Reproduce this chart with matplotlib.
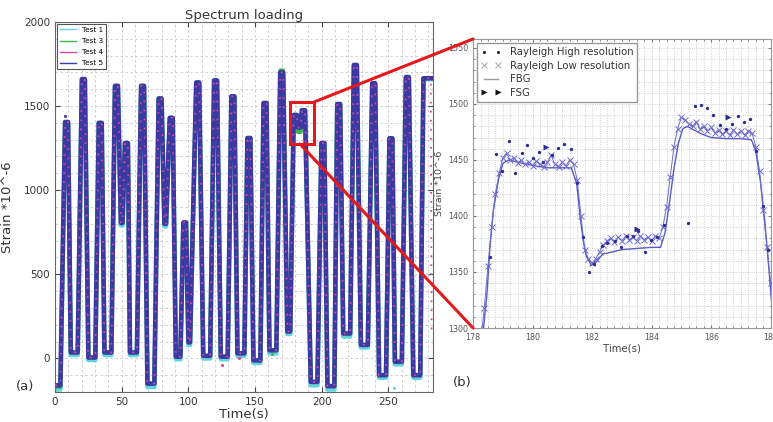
import numpy as np
import matplotlib
matplotlib.use("Agg")
import matplotlib.pyplot as plt
from matplotlib.patches import Rectangle, ConnectionPatch
from matplotlib.lines import Line2D
from matplotlib.ticker import MultipleLocator, AutoMinorLocator

# ---------------- data: panel (a) loading plateaus ----------------
seg_start = [0.0, 7.55, 11.8, 20.15, 25.0, 32.8, 37.05, 44.95, 49.4, 52.45, 56.2, 64.55,
             69.3, 77.7, 82.05, 86.05, 90.6, 96.25, 100.05, 105.9, 111.15, 119.3, 124.3,
             132.3, 136.8, 144.3, 148.8, 156.4, 160.8, 168.9, 174.2, 179.0, 182.1, 185.1,
             191.8, 199.8, 204.3, 211.65, 216.15, 224.15, 229.4, 237.9, 243.05, 250.8,
             254.9, 263.15, 268.7, 276.3]
seg_end = [4.0, 9.75, 17.0, 22.35, 30.2, 35.0, 42.25, 47.15, 50.6, 54.65, 61.4, 66.75,
           74.5, 79.9, 83.25, 88.25, 94.0, 98.25, 101.25, 108.1, 116.35, 121.5, 129.5,
           134.5, 142.0, 146.5, 154.0, 158.6, 166.0, 171.1, 176.4, 181.4, 184.3, 187.5,
           196.8, 202.0, 209.5, 213.85, 221.35, 226.35, 234.6, 240.1, 248.25, 253.0,
           260.1, 265.35, 273.9, 283.0]
test5_level = [-160, 1405, 35, 1660, 5, 1400, 35, 1620, 805, 1280, 35, 1620, -150, 1545,
               800, 1430, 10, 808, 95, 1640, 15, 1652, 10, 1558, 30, 1310, -12, 1518, 48,
               1700, 160, 1447, 1372, 1475, -140, 1280, -165, 1512, 148, 1744, 80, 1635,
               -100, 1308, -20, 1672, -100, 1665]
test1_level = [-185, 1400, 20, 1655, -10, 1395, 20, 1615, 790, 1275, 20, 1615, -170, 1540,
               785, 1425, -5, 800, 80, 1635, 0, 1647, -5, 1553, 15, 1305, -27, 1513, 30,
               1695, 145, 1440, 1360, 1468, -160, 1275, -185, 1507, 130, 1740, 65, 1630,
               -115, 1303, -35, 1667, -115, 1660]
test3_level = [-170, 1405, 35, 1660, 5, 1400, 35, 1620, 805, 1280, 35, 1620, -150, 1545,
               800, 1430, 10, 808, 95, 1640, 15, 1652, 10, 1558, 30, 1310, -12, 1518, 48,
               1712, 160, 1447, 1345, 1475, -140, 1280, -165, 1512, 148, 1744, 80, 1635,
               -100, 1308, -20, 1672, -100, 1665]
test4_level = test5_level
test4_tail_t = [281.8, 282.4]
test4_tail_v = [1665, 150]

out_t = {"t1": [254.0], "t3": [162.5], "t4": [125.0, 138.0], "t5": [7.5]}
out_v = {"t1": [-175], "t3": [28], "t4": [-40, 0], "t5": [1440]}

# ---------------- data: panel (b) zoom ----------------
hr_t = [178.57, 178.77, 178.98, 179.21, 179.41, 179.63, 179.82, 180.02, 180.23, 180.34,
        180.66, 180.86, 181.06, 181.29, 181.48, 181.7, 181.9, 182.06, 182.34, 182.49,
        182.77, 182.96, 183.16, 183.38, 183.55, 183.77, 183.99, 184.18, 184.41, 185.22,
        185.45, 185.65, 185.86, 186.06, 186.29, 186.49, 186.71, 186.9, 187.1, 187.32,
        187.5, 187.74, 187.91]
hr_v = [1363, 1455, 1440, 1467, 1438, 1456, 1463, 1452, 1457, 1448, 1454, 1461, 1464,
        1460, 1429, 1381, 1350, 1357, 1373, 1376, 1378, 1372, 1382, 1382, 1387, 1368,
        1379, 1381, 1392, 1394, 1498, 1499, 1496, 1490, 1481, 1478, 1482, 1489, 1484,
        1487, 1458, 1409, 1370]

rl_t0, rl_dt = 178.25, 0.125
rl_v = [1285, 1318, 1355, 1390, 1420, 1438, 1452, 1456, 1450, 1452,
        1447, 1450, 1446, 1448, 1445, 1449, 1446, 1444, 1448, 1454,
        1446, 1444, 1448, 1445, 1450, 1446, 1432, 1400, 1370, 1362,
        1358, 1362, 1368, 1374, 1378, 1380, 1377, 1381, 1378, 1382,
        1379, 1381, 1378, 1382, 1379, 1381, 1378, 1382, 1380, 1390,
        1408, 1435, 1462, 1478, 1488, 1486, 1482, 1480, 1484, 1478,
        1480, 1476, 1479, 1474, 1477, 1473, 1476, 1472, 1477, 1473,
        1476, 1472, 1476, 1474, 1462, 1440, 1405, 1372, 1340]

fbg_t = [178.2, 178.35, 178.46, 178.57, 178.68, 178.85, 179.0, 179.2, 179.5, 180.0, 180.5,
         181.0, 181.3, 181.48, 181.6, 181.7, 181.8, 181.97, 182.14, 182.36, 182.7, 183.0,
         183.5, 184.0, 184.3, 184.45, 184.6, 184.75, 184.9, 185.05, 185.2, 185.4, 185.7,
         186.0, 186.5, 187.0, 187.35, 187.5, 187.65, 187.8, 187.95, 188.1]
fbg_v = [1270, 1300, 1328, 1373, 1405, 1432, 1447, 1450, 1448, 1445, 1443, 1443, 1443,
         1429, 1399, 1378, 1365, 1356, 1359, 1366, 1368, 1370, 1371, 1372, 1372, 1385,
         1412, 1442, 1465, 1478, 1480, 1477, 1473, 1470, 1469, 1469, 1468, 1458, 1432,
         1396, 1350, 1300]

fsg_t = [180.45, 183.5, 186.55]
fsg_v = [1462, 1388, 1488]


def plateau_series(starts, ends, levels):
    t, v = [], []
    for s, e, l in zip(starts, ends, levels):
        t += [s, e]
        v += [l, l]
    return np.array(t), np.array(v)


c_t1, c_t3, c_t4, c_t5 = "#62d6dc", "#3fb34a", "#d4479f", "#3a3aa2"
red = "#e3191c"

fig = plt.figure(figsize=(7.73, 4.22), dpi=100)
axL = fig.add_axes([0.0712, 0.0711, 0.489, 0.877])
axR = fig.add_axes([0.612, 0.2227, 0.385, 0.685])

# ---------------- panel (a) ----------------
t1, v1 = plateau_series(seg_start, seg_end, test1_level)
t3, v3 = plateau_series(seg_start, seg_end, test3_level)
t5, v5 = plateau_series(seg_start, seg_end, test5_level)
t4, v4 = plateau_series(seg_start, seg_end, test4_level)
keep = t4 < test4_tail_t[0]
t4 = np.concatenate([t4[keep], test4_tail_t])
v4 = np.concatenate([v4[keep], test4_tail_v])

axL.plot(t1, v1, color=c_t1, lw=3.35, zorder=2, solid_joinstyle="round", label="Test 1")
axL.plot(t3, v3, color=c_t3, lw=2.8, zorder=3, solid_joinstyle="round", label="Test 3")
axL.plot(t4, v4, color=c_t4, lw=1.3, ls=(0, (1, 4)), zorder=5, label="Test 4")
axL.plot(t5, v5, color=c_t5, lw=3.3, zorder=4, solid_joinstyle="round", label="Test 5")
for key, col in (("t1", c_t1), ("t3", c_t3), ("t4", c_t4), ("t5", c_t5)):
    axL.plot(out_t[key], out_v[key], ls="none", marker="o", ms=2.2, color=col, mec="none", zorder=5)

axL.set_xlim(0, 283.5)
axL.set_ylim(-200, 2000)
axL.xaxis.set_major_locator(MultipleLocator(50))
axL.yaxis.set_major_locator(MultipleLocator(500))
axL.xaxis.set_minor_locator(AutoMinorLocator())
axL.yaxis.set_minor_locator(AutoMinorLocator())
axL.grid(True, which="both", ls=(0, (3, 3)), color="#c8c8c8", lw=0.6)
axL.set_axisbelow(True)
axL.tick_params(which="both", direction="in", top=True, right=True, labelsize=7.5,
                colors="#444444", labelcolor="#333333")
axL.tick_params(which="minor", length=0)
for s in axL.spines.values():
    s.set_color("#666666")
axL.set_title("Spectrum loading", fontsize=9.5, pad=2, color="#333333")
axL.set_xlabel("Time(s)", fontsize=9.5, labelpad=1, color="#333333")
axL.set_ylabel("Strain *10^-6", fontsize=9.5, color="#333333")
axL.yaxis.set_label_coords(-0.108, 0.5)
legL = axL.legend(loc="upper left", fontsize=5.2, handlelength=2.2, borderaxespad=0.3,
                  fancybox=False, framealpha=1, edgecolor="#555555", labelspacing=0.7)
legL.get_frame().set_linewidth(0.8)
for h in legL.get_lines():
    h.set_linewidth(1.0)
    h.set_linestyle("-")

rect = Rectangle((176.3, 1274), 18.0, 250, fill=False, ec=red, lw=2.2, zorder=10)
axL.add_patch(rect)

# ---------------- panel (b) ----------------
c_line = "#5a5ac2"
c_dot = "#2b2b91"
rl_t = rl_t0 + rl_dt * np.arange(len(rl_v))
axR.plot(fbg_t, fbg_v, color=c_line, lw=1.0, zorder=3)
axR.plot(rl_t, rl_v, color="#6c6ccc", lw=0.7, marker="x", ms=4, mew=0.7, zorder=4)
axR.plot(hr_t, hr_v, ls="none", marker="o", ms=2.4, color=c_dot, mec="none", zorder=5)
axR.plot(fsg_t, fsg_v, ls="none", marker=">", ms=4, color=c_dot, mec="none", zorder=5)

axR.set_xlim(178, 188)
axR.set_ylim(1300, 1558)
axR.xaxis.set_major_locator(MultipleLocator(2))
axR.yaxis.set_major_locator(MultipleLocator(50))
axR.xaxis.set_minor_locator(MultipleLocator(0.25))
axR.yaxis.set_minor_locator(MultipleLocator(10))
axR.grid(True, which="both", ls=":", color="#c4c4c4", lw=0.6)
axR.set_axisbelow(True)
axR.tick_params(which="both", direction="in", top=True, right=True, labelsize=5.8,
                colors="#777777", labelcolor="#555555", length=2.5)
axR.tick_params(which="minor", length=1.2)
for s in axR.spines.values():
    s.set_color("#999999")
axR.set_xlabel("Time(s)", fontsize=7.3, labelpad=1, color="#444444")
axR.set_ylabel("Strain *10^-6", fontsize=6.8, color="#444444")
axR.yaxis.set_label_coords(-0.097, 0.5)

handles = [
    Line2D([], [], ls="none", marker="o", ms=2.2, color="#222222", mec="none"),
    Line2D([], [], ls="none", marker="x", ms=4, mew=0.7, color="#aaaaaa"),
    Line2D([], [], ls="-", lw=1.0, color="#999999"),
    Line2D([], [], ls="none", marker=">", ms=4, color="#111111", mec="none"),
]
labels = ["Rayleigh High resolution", "Rayleigh Low resolution", "FBG", "FSG"]
legR = axR.legend(handles, labels, loc="upper left", fontsize=7.3, numpoints=2,
                  handlelength=2.0, borderaxespad=0.4, fancybox=False, framealpha=1,
                  edgecolor="#999999", labelspacing=0.35, borderpad=0.4)
for txt in legR.get_texts():
    txt.set_color("#333333")

# ---------------- connectors & labels ----------------
con1 = ConnectionPatch(xyA=(194.3, 1524), coordsA=axL.transData, xyB=(0, 1),
                       coordsB=axR.transAxes, color=red, lw=2.2, zorder=20)
con2 = ConnectionPatch(xyA=(183.7, 1274), coordsA=axL.transData, xyB=(0, 0),
                       coordsB=axR.transAxes, color=red, lw=2.2, zorder=20)
fig.add_artist(con1)
fig.add_artist(con2)

fig.text(0.032, 0.085, "(a)", fontsize=9.5, ha="center", va="center", color="#333333")
fig.text(0.598, 0.094, "(b)", fontsize=9.5, ha="center", va="center", color="#333333")

fig.savefig("out.png", dpi=100)
